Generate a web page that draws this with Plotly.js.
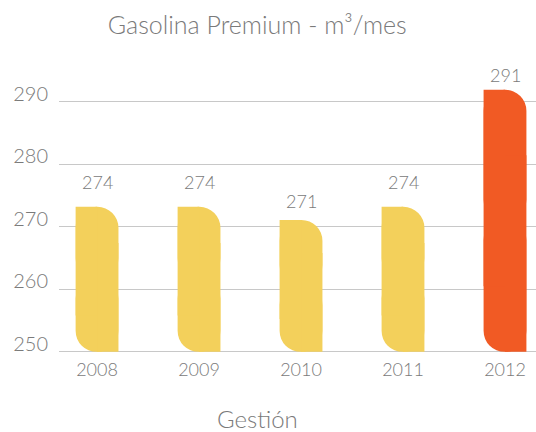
<!DOCTYPE html>
<html>
<head>
<meta charset="utf-8">
<script src="https://cdn.plot.ly/plotly-3.0.1.min.js"></script>
<style>html,body{margin:0;padding:0;background:#fff}#chart{width:536px;height:432px}</style>
</head>
<body>
<div id="chart"></div>
<script>
// ---- data ----
var years = ['2008', '2009', '2010', '2011', '2012'];
var barValues = [273.2, 273.2, 271.1, 273.2, 291.9];
var labelValues = [274, 274, 271, 274, 291];
var barColors = ['#F3D05B', '#F3D05B', '#F3D05B', '#F3D05B', '#F15A24'];
var yTicks = [250, 260, 270, 280, 290];
var baseValue = 250;

// ---- style ----
var W = 0.42;          // bar width in category units
var R = 21;            // corner radius px
var FONT = 'Lato, "Open Sans", sans-serif';
var GREY = '#7a7a7a';
var XRANGE = [-0.373, 4.304];
var overlap = 0.3;

var mids = barValues.map(function (v) { return (baseValue + v) / 2; });
var q1 = mids.map(function (m) { return (baseValue + m) / 2; });
var q3 = mids.map(function (m, i) { return (m + barValues[i]) / 2; });
var bases = barValues.map(function () { return baseValue; });

function bar(y, base, width, offset, radius, xaxis) {
  var t = {
    type: 'bar', x: years, y: y, base: base, width: width, xaxis: xaxis,
    marker: { color: barColors, line: { width: 0 } },
    hoverinfo: 'skip', showlegend: false
  };
  if (offset !== null) t.offset = offset;
  if (radius) t.marker.cornerradius = radius;
  return t;
}

var traces = [
  // lower rounded piece (base -> mid)
  bar(mids.map(function (m) { return baseValue - (m + overlap); }),
      mids.map(function (m) { return m + overlap; }), W, null, R, 'x'),
  // upper rounded piece (mid -> top)
  bar(barValues.map(function (v, i) { return v - mids[i]; }), mids, W, null, R, 'x'),
  // square patch: left half, from lower quarter to top
  bar(barValues.map(function (v, i) { return v - q1[i]; }), q1, W / 2, -W / 2, 0, 'x2'),
  // square patch: right half, from base to upper quarter
  bar(q3.map(function (q) { return q - baseValue; }), bases, W / 2, 0, 0, 'x2')
];

var annotations = years.map(function (yr, i) {
  return {
    x: i, y: labelValues[i], xref: 'x', yref: 'y', yshift: 20,
    text: String(labelValues[i]), showarrow: false,
    xanchor: 'center', yanchor: 'middle',
    font: { family: FONT, size: 18, color: GREY, weight: 300 }
  };
});
annotations.push({
  text: 'Gestión', xref: 'paper', yref: 'paper', x: 0.417, y: -0.215,
  xanchor: 'center', yanchor: 'middle', showarrow: false,
  font: { family: FONT, size: 24, color: GREY, weight: 300 }
});

var layout = {
  width: 536, height: 432,
  margin: { l: 59, r: 0, t: 60, b: 77 },
  paper_bgcolor: '#fff', plot_bgcolor: '#fff',
  barmode: 'overlay',
  title: {
    text: 'Gasolina Premium - m³/mes',
    x: 0.48, xref: 'container', xanchor: 'center',
    y: 1 - 25 / 432, yref: 'container', yanchor: 'middle',
    font: { family: FONT, size: 25, color: GREY, weight: 300 }
  },
  xaxis: {
    type: 'category', range: XRANGE,
    showgrid: false, zeroline: false, showline: false, ticks: '',
    ticklabelstandoff: 2,
    tickfont: { family: FONT, size: 18, color: GREY, weight: 300 },
    fixedrange: true
  },
  xaxis2: {
    type: 'category', range: XRANGE, overlaying: 'x', visible: false,
    showgrid: false, zeroline: false, fixedrange: true
  },
  yaxis: {
    range: [249.5, 296.67], tickvals: yTicks, ticktext: yTicks.map(String),
    showgrid: true, gridcolor: '#c8c8c8', gridwidth: 1,
    zeroline: false, showline: false, ticks: '',
    ticklabelstandoff: 10, ticklabelshift: -8,
    tickfont: { family: FONT, size: 20, color: GREY, weight: 300 },
    fixedrange: true
  },
  annotations: annotations,
  hovermode: false
};

Plotly.newPlot('chart', traces, layout, { displayModeBar: false, staticPlot: true });
</script>
</body>
</html>
